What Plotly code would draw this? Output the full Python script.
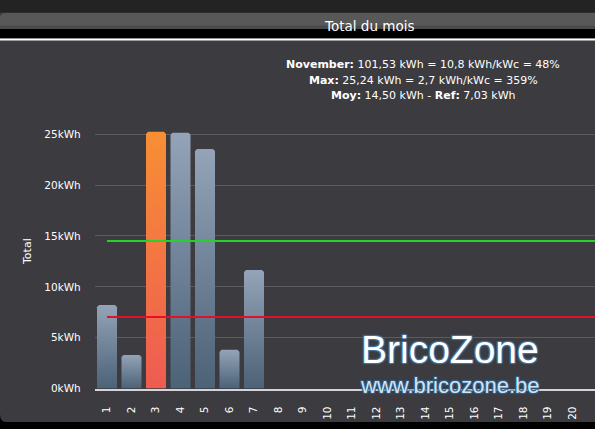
import plotly.graph_objects as go

# ---- data ----
days = list(range(1, 31))
day_labels = [str(d) for d in days]
bar_days = [1, 2, 3, 4, 5, 6, 7]
bar_values = [8.2, 3.3, 25.24, 25.15, 23.55, 3.8, 11.65]
max_day = 3
avg_value = 14.50
ref_value = 7.03
y_ticks = [0, 5, 10, 15, 20, 25]
y_tick_labels = [f"{v}kWh" for v in y_ticks]
info_lines = [
    "<b>November:</b> 101,53 kWh = 10,8 kWh/kWc = 48%",
    "<b>Max:</b> 25,24 kWh = 2,7 kWh/kWc = 359%",
    "<b>Moy:</b> 14,50 kWh - <b>Ref:</b> 7,03 kWh",
]
title_text = "Total du mois"

W, H = 595, 429
FONT = "DejaVu Sans"


def py(px):
    return 1 - px / H


def px_(x):
    return x / W


fig = go.Figure()

half = 0.408
rx, ry = 0.08, 0.2
for d, v in zip(bar_days, bar_values):
    if d == max_day:
        cs = [[0, "#ee5b52"], [1, "#f78f34"]]
    else:
        cs = [[0, "#4c6277"], [1, "#94a3b8"]]
    xs = [d - half, d - half, d - half + rx, d + half - rx, d + half, d + half, d - half]
    ys = [0, v - ry, v, v, v - ry, 0, 0]
    fig.add_trace(go.Scatter(
        x=xs, y=ys, mode="lines", fill="toself",
        line=dict(width=0, color="rgba(0,0,0,0)"),
        fillgradient=dict(type="vertical", colorscale=cs),
        hoverinfo="skip", showlegend=False,
    ))

fig.add_trace(go.Scatter(x=[1, days[-1]], y=[avg_value, avg_value], mode="lines",
                         line=dict(color="#26d12a", width=2), showlegend=False, hoverinfo="skip"))
fig.add_trace(go.Scatter(x=[1, days[-1]], y=[ref_value, ref_value], mode="lines",
                         line=dict(color="#e3102a", width=2), showlegend=False, hoverinfo="skip"))

x_left = 94.75
step = 24.5
x_end = 0.5 + (W - x_left) / step
y0_px, y25_px = 388.5, 134.3
ppu = (y0_px - y25_px) / 25
ymax = 27
ytop_px = y0_px - ymax * ppu

fig.update_layout(
    width=W, height=H,
    margin=dict(l=0, r=0, t=0, b=0),
    paper_bgcolor="#3c3b40",
    plot_bgcolor="rgba(0,0,0,0)",
    font=dict(family=FONT, color="white", size=11),
    xaxis=dict(
        domain=[px_(x_left), 1],
        range=[0.5, x_end],
        tickmode="array", tickvals=days, ticktext=day_labels,
        tickangle=-90, tickfont=dict(size=10.5, color="white", family=FONT),
        ticks="", ticklabelstandoff=12,
        showgrid=False, zeroline=False,
        showline=True, linecolor="#d4d4dc", linewidth=1.5,
        fixedrange=True, automargin=False,
    ),
    yaxis=dict(
        domain=[py(y0_px), py(ytop_px)],
        range=[0, ymax],
        tickmode="array", tickvals=y_ticks, ticktext=y_tick_labels,
        tickfont=dict(size=10.5, color="white", family=FONT),
        ticks="", ticklabelstandoff=13,
        showgrid=True, gridcolor="#5c5b60", gridwidth=1,
        zeroline=False, showline=False,
        fixedrange=True, automargin=False,
    ),
)

shapes = [
    dict(type="rect", xref="paper", yref="paper", x0=0, x1=1, y0=py(12.5), y1=1,
         fillcolor="#232323", line_width=0, layer="below"),
    dict(type="path", xref="paper", yref="paper",
         path=f"M 0,{py(29)} L 0,{py(18)} Q 0,{py(13)} {px_(6)},{py(13)} L 1,{py(13)} L 1,{py(29)} Z",
         fillcolor="#585858", line_width=0, layer="below"),
    dict(type="rect", xref="paper", yref="paper", x0=0, x1=1, y0=py(29), y1=py(25.5),
         fillcolor="#4a4a4a", line_width=0, layer="below"),
    dict(type="rect", xref="paper", yref="paper", x0=0, x1=1, y0=py(38.5), y1=py(29),
         fillcolor="#000000", line_width=0, layer="below"),
    dict(type="rect", xref="paper", yref="paper", x0=0, x1=1, y0=py(40.5), y1=py(38.5),
         fillcolor="#ffffff", line_width=0, layer="below"),
    dict(type="path", xref="paper", yref="paper",
         path=f"M 0,0 L 0,{py(414)} Q 0,{py(422)} {px_(6)},{py(422)} L 1,{py(422)} L 1,0 Z",
         fillcolor="#000000", line_width=0, layer="below"),
]
fig.update_layout(shapes=shapes)

annotations = [
    dict(text=title_text, x=px_(369), y=py(26.5), xref="paper", yref="paper",
         showarrow=False, xanchor="center", yanchor="middle",
         font=dict(size=13.5, color="white", family=FONT)),
    dict(text="Total", x=px_(27), y=py(252), xref="paper", yref="paper",
         showarrow=False, textangle=-90, xanchor="center", yanchor="middle",
         font=dict(size=11, color="white", family=FONT)),
    dict(text="BricoZone", x=px_(450), y=py(349), xref="paper", yref="paper",
         showarrow=False, xanchor="center", yanchor="middle",
         font=dict(size=39, color="#ffffff", family="Liberation Sans",
                   shadow="1px 1px 1px #3f74a0, -1px -1px 1px #3f74a0, 1px -1px 1px #3f74a0, -1px 1px 1px #3f74a0")),
    dict(text="www.bricozone.be", x=px_(450), y=py(385), xref="paper", yref="paper",
         showarrow=False, xanchor="center", yanchor="middle",
         font=dict(size=22, color="#d2e4f4", family="Liberation Sans",
                   shadow="1px 1px 1px #2f5f8a, -1px -1px 1px #2f5f8a, 1px -1px 1px #2f5f8a, -1px 1px 1px #2f5f8a")),
]
for line, yc in zip(info_lines, [65, 80.5, 96]):
    annotations.append(dict(text=line, x=px_(423), y=py(yc), xref="paper", yref="paper",
                            showarrow=False, xanchor="center", yanchor="middle",
                            font=dict(size=11, color="white", family=FONT)))
fig.update_layout(annotations=annotations)

fig.write_html("out.html")
